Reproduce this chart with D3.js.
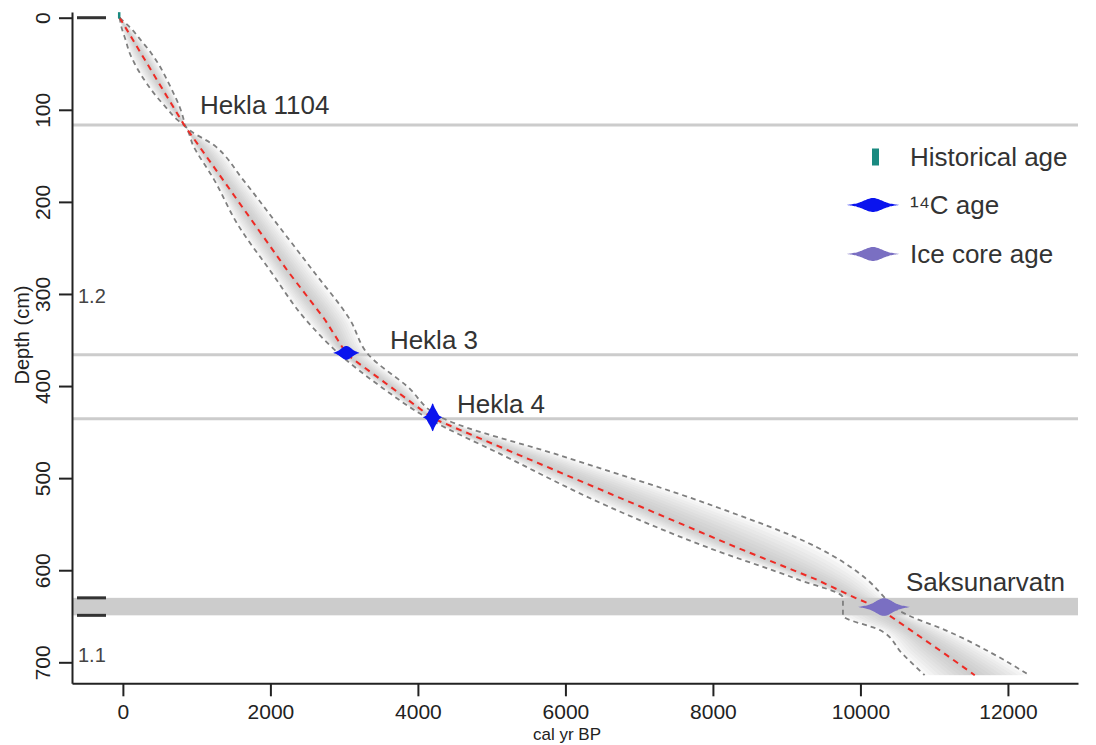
<!DOCTYPE html>
<html>
<head>
<meta charset="utf-8">
<script src="https://cdn.jsdelivr.net/npm/d3@7"></script>
<style>
  html, body { margin: 0; padding: 0; background: #fff; }
  svg { display: block; font-family: "Liberation Sans", Arial, Helvetica, sans-serif; }
</style>
</head>
<body>
<svg id="chart" width="1096" height="745"></svg>
<script>
// ---------- data ----------
const xTicks = [0, 2000, 4000, 6000, 8000, 10000, 12000];
const yTicks = [0, 100, 200, 300, 400, 500, 600, 700];

// age-depth model (depth cm, cal yr BP)
const modelDepth  = [0, 10, 25, 38, 50, 71, 86, 97, 111, 116.5, 140, 175, 225, 275, 328, 366, 400, 435, 475, 530, 575, 610, 630, 640, 649, 665, 690, 714];
const modelMedian = [-45, 30, 143, 240, 330, 488, 601, 684, 789, 830, 1038, 1348, 1791, 2234, 2740, 3040, 3615, 4200, 5375, 6992, 8314, 9400, 9930, 10224, 10390, 10680, 11130, 11550];
const modelMin    = [-45, -20, 40, 90, 160, 320, 460, 580, 740, 825, 960, 1230, 1560, 2000, 2480, 2945, 3485, 4136, 5150, 6560, 7920, 9150, 9763, 9763, 9763, 10264, 10560, 10870];
const modelMax    = [-45, 90, 250, 380, 480, 620, 710, 770, 825, 840, 1260, 1620, 2100, 2580, 3080, 3330, 3850, 4339, 5912, 8000, 9410, 10088, 10330, 10441, 10650, 11150, 11780, 12290];

// tephra / marker layers
const tephraNames  = ["Hekla 1104", "Hekla 3", "Hekla 4"];
const tephraDepths = [116.5, 366, 435.5];
const tephraLabelAges = [1044, 3620, 4529];
const bandName = "Saksunarvatn";
const bandLabelAge = 10617;
const bandTop = 630, bandBottom = 649;

// dated points
const histAge = -50, histDepthTop = -6, histDepthBottom = 1;
const c14Ages = [3030, 4200];
const c14Depths = [364, 434];
const c14AgeSpread = [175, 130];
const c14DepthSpread = [7, 15];
const iceAge = 10320, iceDepth = 640, iceAgeSpread = 350;

// unit boundaries and labels
const unitBoundaryDepths = [0, 630, 649];
const unitLabels = ["1.2", "1.1"];
const unitLabelDepths = [310, 699.6];

const legendLabels = ["Historical age", "\u00B9\u2074C age", "Ice core age"];

// ---------- scales ----------
const svg = d3.select("#chart");
const x = d3.scaleLinear().domain([-690, 12950]).range([72, 1078]);
const y = d3.scaleLinear().domain([-6.2, 722.8]).range([12, 683.3]);

const model = modelDepth.map((d, i) => ({depth: d, med: modelMedian[i], lo: modelMin[i], hi: modelMax[i]}));

// ---------- gradient shading (nested bands) ----------
const nLayers = 10;
for (let k = nLayers; k >= 1; k--) {
  const f = k / nLayers;
  const ar = d3.area()
    .curve(d3.curveMonotoneY)
    .y(d => y(d.depth))
    .x0(d => x(d.med - (d.med - d.lo) * f))
    .x1(d => x(d.med + (d.hi - d.med) * f));
  svg.append("path").datum(model)
    .attr("d", ar)
    .attr("fill", "#8a8a8a")
    .attr("fill-opacity", 0.055)
    .attr("stroke", "none");
}

// ---------- horizontal tephra lines and band ----------
svg.append("rect")
  .attr("x", x.range()[0]).attr("width", x.range()[1] - x.range()[0])
  .attr("y", y(bandTop)).attr("height", y(bandBottom) - y(bandTop))
  .attr("fill", "#cccccc");

svg.selectAll(".tephra").data(tephraDepths).enter().append("line")
  .attr("x1", x.range()[0]).attr("x2", x.range()[1])
  .attr("y1", d => y(d)).attr("y2", d => y(d))
  .attr("stroke", "#cccccc").attr("stroke-width", 3);

// ---------- envelope dashed lines ----------
const loLine = d3.line().curve(d3.curveMonotoneY).x(d => x(d.lo)).y(d => y(d.depth));
const hiLine = d3.line().curve(d3.curveMonotoneY).x(d => x(d.hi)).y(d => y(d.depth));
[loLine, hiLine].forEach(ln => {
  svg.append("path").datum(model).attr("d", ln)
    .attr("fill", "none").attr("stroke", "#7f7f7f")
    .attr("stroke-width", 1.8).attr("stroke-dasharray", "5,4");
});

// median
svg.append("path").datum(model)
  .attr("d", d3.line().x(d => x(d.med)).y(d => y(d.depth)))
  .attr("fill", "none").attr("stroke", "#ee2a24")
  .attr("stroke-width", 2).attr("stroke-dasharray", "6,5");

// ---------- marker glyphs ----------
function lensH(cx, cy, hw, hh, tail, sig) {
  const s2 = 2 * (sig || 0.16);
  const pts = d3.range(-1, 1.0001, 0.04);
  const h = t => hh * Math.exp(-t * t / s2) + (tail || 0) * (1 - t * t);
  const top = pts.map(t => [cx + t * hw, cy - h(t)]);
  const bot = pts.slice().reverse().map(t => [cx + t * hw, cy + h(t)]);
  return d3.line().curve(d3.curveBasisClosed)(top.concat(bot));
}
function lensV(cx, cy, hw, hh) {
  const pts = d3.range(-1, 1.0001, 0.04);
  const w = t => hw * Math.exp(-t * t / (2 * 0.2)) + 0.8 * (1 - t * t);
  const left = pts.map(t => [cx - w(t), cy + t * hh]);
  const right = pts.slice().reverse().map(t => [cx + w(t), cy + t * hh]);
  return d3.line().curve(d3.curveBasisClosed)(left.concat(right));
}

// historical age
svg.append("line")
  .attr("x1", x(histAge)).attr("x2", x(histAge))
  .attr("y1", y(histDepthTop)).attr("y2", y(histDepthBottom))
  .attr("stroke", "#1a8a80").attr("stroke-width", 2.5);

// 14C ages
c14Ages.forEach((a, i) => {
  const cx = x(a), cy = y(c14Depths[i]);
  const hw = x(a + c14AgeSpread[i]) - cx;
  const hh = y(c14Depths[i] + c14DepthSpread[i]) - cy;
  svg.append("path").attr("d", lensH(cx, cy, hw, 5.5, 1.4, 0.14)).attr("fill", "#0a14ee");
  svg.append("path").attr("d", lensV(cx, cy, 5.5, hh)).attr("fill", "#0a14ee");
});

// ice core age
{
  const cx = x(iceAge), cy = y(iceDepth);
  const hw = x(iceAge + iceAgeSpread) - cx;
  svg.append("path").attr("d", lensH(cx, cy, hw, 6.5, 2.4, 0.08)).attr("fill", "#7a6fc2");
}

// ---------- unit boundaries ----------
svg.selectAll(".ub").data(unitBoundaryDepths).enter().append("line")
  .attr("x1", 77).attr("x2", 106)
  .attr("y1", d => y(d)).attr("y2", d => y(d))
  .attr("stroke", "#333").attr("stroke-width", 3);
svg.selectAll(".ul").data(unitLabels).enter().append("text")
  .attr("x", 78).attr("y", (d, i) => y(unitLabelDepths[i]))
  .attr("font-size", 20).attr("fill", "#444")
  .text(d => d);

// ---------- tephra labels ----------
const tephraLabelOffsets = [-10.5, -5.5, -5.5];
tephraNames.forEach((n, i) => {
  svg.append("text").attr("x", x(tephraLabelAges[i])).attr("y", y(tephraDepths[i]) + tephraLabelOffsets[i])
    .attr("font-size", 26).attr("fill", "#333").text(n);
});
svg.append("text").attr("x", x(bandLabelAge)).attr("y", y(bandTop) - 6.5)
  .attr("font-size", 26).attr("fill", "#333").text(bandName);

// ---------- axes ----------
const xAxis = svg.append("g").attr("transform", `translate(0,${y.range()[1]})`)
  .call(d3.axisBottom(x).tickValues(xTicks).tickSize(13).tickSizeOuter(0).tickFormat(d3.format("d")));
xAxis.select(".domain").attr("stroke", "#222").attr("stroke-width", 2);
xAxis.selectAll(".tick line").attr("stroke", "#222").attr("stroke-width", 2);
xAxis.selectAll(".tick text").attr("font-size", 21).attr("fill", "#222")
  .attr("font-family", "Liberation Sans, Arial, sans-serif")
  .attr("y", 36).attr("dy", null);

const yAxis = svg.append("g").attr("transform", `translate(${x.range()[0]},0)`)
  .call(d3.axisLeft(y).tickValues(yTicks).tickSize(13).tickSizeOuter(0).tickFormat(d3.format("d")));
yAxis.select(".domain").attr("stroke", "#222").attr("stroke-width", 2);
yAxis.selectAll(".tick line").attr("stroke", "#222").attr("stroke-width", 2);
yAxis.selectAll(".tick text")
  .attr("font-size", 21).attr("fill", "#222")
  .attr("font-family", "Liberation Sans, Arial, sans-serif")
  .attr("x", 0).attr("y", 0).attr("dy", null)
  .attr("text-anchor", "middle")
  .attr("transform", "translate(-22,0) rotate(-90)");

svg.append("text").attr("x", 567).attr("y", 740).attr("text-anchor", "middle")
  .attr("font-size", 17).attr("fill", "#222").text("cal yr BP");
svg.append("text").attr("transform", "translate(29,335) rotate(-90)").attr("text-anchor", "middle")
  .attr("font-size", 20).attr("fill", "#222").text("Depth (cm)");

// ---------- legend ----------
const lg = svg.append("g");
const legendY = [157, 205, 254];
lg.append("rect").attr("x", 872).attr("y", legendY[0] - 8.5).attr("width", 7).attr("height", 17).attr("fill", "#1a8a80");
lg.append("path").attr("d", lensH(873, legendY[1], 26, 5.5, 1.5, 0.1)).attr("fill", "#0a14ee");
lg.append("path").attr("d", lensH(873, legendY[2], 26, 5.5, 1.5, 0.1)).attr("fill", "#7a6fc2");
legendLabels.forEach((t, i) => {
  lg.append("text").attr("x", 910).attr("y", legendY[i] + 9)
    .attr("font-size", 26).attr("fill", "#333").text(t);
});
</script>
</body>
</html>
